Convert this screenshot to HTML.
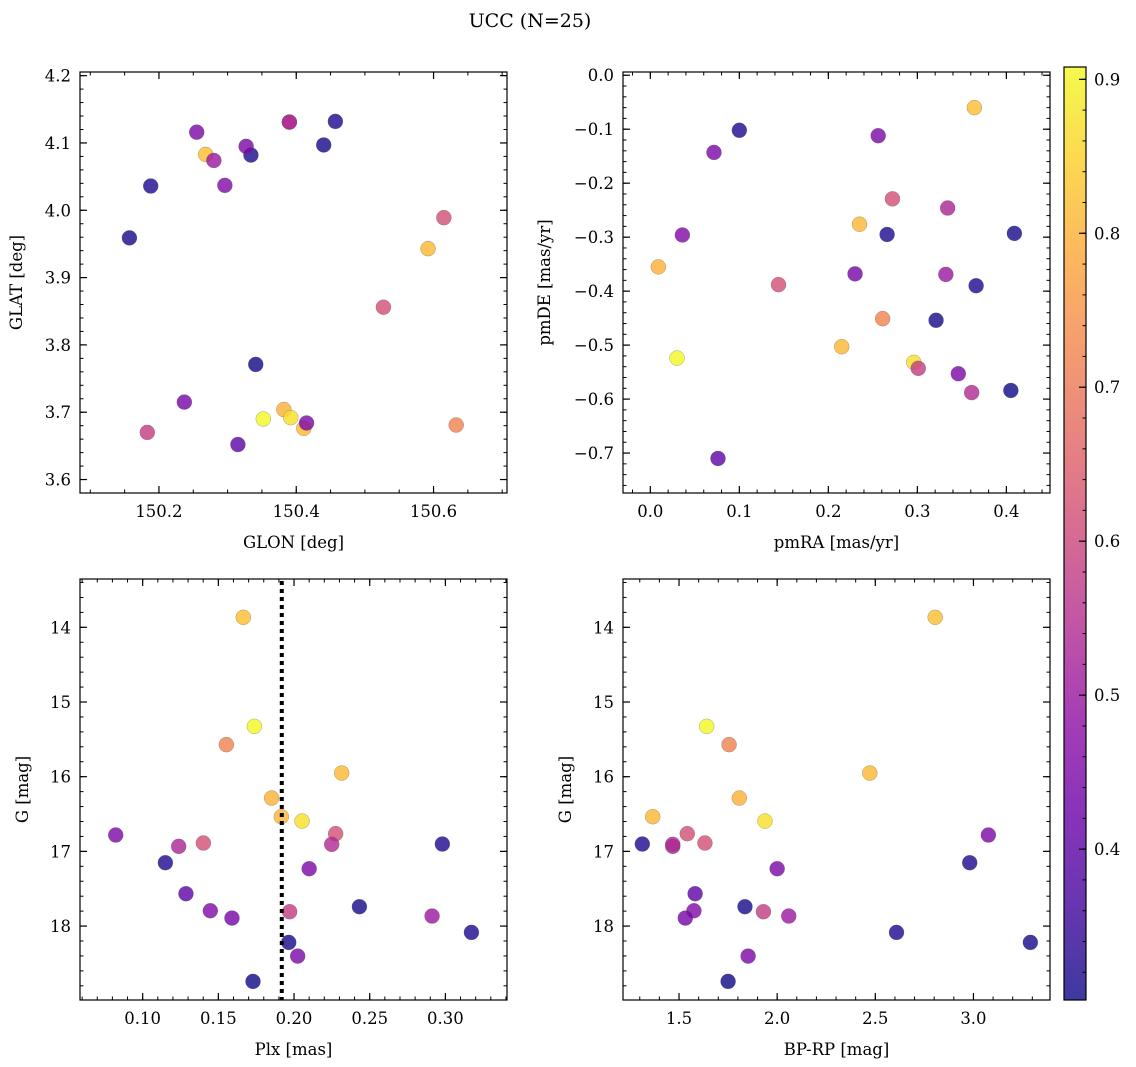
<!DOCTYPE html>
<html>
<head>
<meta charset="utf-8">
<style>
  html,body{margin:0;padding:0;background:#fff;}
  svg{display:block;}
  text{font-family:"DejaVu Serif","Liberation Serif",serif;fill:#000;}
</style>
</head>
<body>
<svg id="fig" width="1136" height="1067" viewBox="0 0 1136 1067" xmlns="http://www.w3.org/2000/svg">
  <defs>
    <linearGradient id="plasmaGrad" x1="0" y1="1" x2="0" y2="0">
      <stop offset="0" stop-color="#0d0887"/>
      <stop offset="0.1" stop-color="#41049d"/>
      <stop offset="0.2" stop-color="#6a00a8"/>
      <stop offset="0.3" stop-color="#8f0da4"/>
      <stop offset="0.4" stop-color="#b12a90"/>
      <stop offset="0.5" stop-color="#cc4778"/>
      <stop offset="0.6" stop-color="#e16462"/>
      <stop offset="0.7" stop-color="#f2844b"/>
      <stop offset="0.8" stop-color="#fca636"/>
      <stop offset="0.9" stop-color="#fcce25"/>
      <stop offset="1" stop-color="#f0f921"/>
    </linearGradient>
  </defs>
  <text x="530" y="27" text-anchor="middle" font-size="19">UCC (N=25)</text>
</svg>
<script>
// ---- data (one entry per star) ----
const glon = [150.268,150.352,150.633,150.592,150.382,150.411,150.392,150.255,150.390,150.615,150.527,150.390,150.334,150.457,150.327,150.315,150.296,150.237,150.183,150.440,150.280,150.188,150.157,150.415,150.341];
const glat = [4.083,3.690,3.681,3.943,3.704,3.676,3.692,4.116,4.131,3.989,3.856,4.131,4.082,4.132,4.095,3.652,4.037,3.715,3.670,4.097,4.074,4.036,3.959,3.684,3.771];
const pmra = [0.364,0.030,0.261,0.235,0.009,0.215,0.296,0.0715,0.334,0.272,0.144,0.361,0.100,0.266,0.256,0.076,0.036,0.230,0.301,0.409,0.332,0.366,0.321,0.346,0.405];
const pmde = [-0.060,-0.524,-0.451,-0.276,-0.355,-0.503,-0.532,-0.143,-0.246,-0.229,-0.388,-0.588,-0.102,-0.295,-0.112,-0.710,-0.296,-0.368,-0.543,-0.293,-0.369,-0.390,-0.454,-0.553,-0.584];
const plx  = [0.1665,0.1738,0.1553,0.2315,0.1852,0.1916,0.2053,0.0822,0.1238,0.1401,0.2275,0.2249,0.298,0.115,0.210,0.1286,0.1447,0.159,0.1971,0.2432,0.2912,0.3172,0.1965,0.2024,0.1729];
const gmag = [13.866,15.326,15.571,15.951,16.286,16.536,16.594,16.781,16.933,16.888,16.763,16.906,16.902,17.152,17.232,17.567,17.795,17.893,17.808,17.741,17.866,18.085,18.219,18.402,18.741];
const bprp = [2.805,1.641,1.755,2.472,1.807,1.366,1.938,3.076,1.468,1.632,1.542,1.468,1.313,2.981,2.000,1.582,1.576,1.532,1.930,1.836,2.059,2.608,3.290,1.852,1.750];
const prob = [0.82,0.908,0.72,0.81,0.80,0.81,0.87,0.45,0.53,0.62,0.62,0.54,0.32,0.32,0.45,0.40,0.46,0.44,0.58,0.31,0.50,0.32,0.31,0.45,0.302];
const plxMedian = 0.1919;

// ---- tick labels ----
const ticksGlon = [150.2,150.4,150.6];
const ticksGlat = [3.6,3.7,3.8,3.9,4.0,4.1,4.2];
const ticksPmra = [0.0,0.1,0.2,0.3,0.4];
const ticksPmde = [0.0,-0.1,-0.2,-0.3,-0.4,-0.5,-0.6,-0.7];
const ticksPlx  = [0.10,0.15,0.20,0.25,0.30];
const ticksG    = [14,15,16,17,18];
const ticksBprp = [1.5,2.0,2.5,3.0];
const ticksCbar = [0.4,0.5,0.6,0.7,0.8,0.9];

const NS = "http://www.w3.org/2000/svg";
const svg = document.getElementById('fig');
const FS = 16.5;
function mk(tag, attrs, parent){
  const e = document.createElementNS(NS, tag);
  for (const k in attrs) e.setAttribute(k, attrs[k]);
  (parent||svg).appendChild(e);
  return e;
}
function minus(s){ return s.replace('-', '\u2212'); }

const plasma = [[13,8,135],[65,4,157],[106,0,168],[143,13,164],[177,42,144],[204,71,120],[225,100,98],[242,132,75],[252,166,54],[252,206,37],[240,249,33]];
function cmap(t){
  t = Math.max(0, Math.min(1, t));
  const f = t*10, i = Math.min(9, Math.floor(f)), r = f - i;
  const a = plasma[i], b = plasma[i+1];
  return 'rgb(' + [0,1,2].map(k => Math.round(a[k] + (b[k]-a[k])*r)).join(',') + ')';
}
const vmin = Math.min(...prob), vmax = Math.max(...prob);

function panel(cfg){
  const {name, box, xr, yr, xt, yt, xminor, yminor, xdec, ydec, xlab, ylab, xs, ys, ylabX, ylabFmt} = cfg;
  const g = mk('g', {});
  
  
  const sx = v => box.x + (v - xr[0]) / (xr[1] - xr[0]) * box.w;
  const sy = v => box.y + (yr[1] - v) / (yr[1] - yr[0]) * box.h;
  const pts = mk('g', {}, g);
  
  
  for (let i = 0; i < xs.length; i++){
    const c = mk('circle', {cx: sx(xs[i]), cy: sy(ys[i]), r: 7.5, fill: cmap((prob[i]-vmin)/(vmax-vmin)), 'fill-opacity': 0.8, stroke: '#555', 'stroke-opacity': 0.5, 'stroke-width': 0.5}, pts);
    
    
  }
  if (cfg.extra) cfg.extra(g, sx, sy);
  const fr = mk('rect', {x: box.x, y: box.y, width: box.w, height: box.h, fill: 'none', stroke: '#000', 'stroke-width': 1.2}, g);
  
  
  const lo = Math.min(xr[0], xr[1]), hi = Math.max(xr[0], xr[1]);
  for (let v = Math.ceil(lo / xminor - 1e-6) * xminor; v <= hi + 1e-9; v += xminor){
    const X = sx(v);
    mk('line', {x1: X, x2: X, y1: box.y + box.h, y2: box.y + box.h - 3.5, stroke: '#000', 'stroke-width': 1}, g);
    mk('line', {x1: X, x2: X, y1: box.y, y2: box.y + 3.5, stroke: '#000', 'stroke-width': 1}, g);
  }
  const ylo = Math.min(yr[0], yr[1]), yhi = Math.max(yr[0], yr[1]);
  for (let v = Math.ceil(ylo / yminor - 1e-6) * yminor; v <= yhi + 1e-9; v += yminor){
    const Y = sy(v);
    mk('line', {x1: box.x, x2: box.x + 3.5, y1: Y, y2: Y, stroke: '#000', 'stroke-width': 1}, g);
    mk('line', {x1: box.x + box.w, x2: box.x + box.w - 3.5, y1: Y, y2: Y, stroke: '#000', 'stroke-width': 1}, g);
  }
  xt.forEach(v => {
    const X = sx(v);
    mk('line', {x1: X, x2: X, y1: box.y + box.h, y2: box.y + box.h - 7, stroke: '#000', 'stroke-width': 1.2}, g);
    mk('line', {x1: X, x2: X, y1: box.y, y2: box.y + 7, stroke: '#000', 'stroke-width': 1.2}, g);
    const t = mk('text', {x: X, y: box.y + box.h + 24, 'text-anchor': 'middle', 'font-size': FS}, g);
    t.textContent = minus(v.toFixed(xdec));
    
    
  });
  yt.forEach(v => {
    const Y = sy(v);
    mk('line', {x1: box.x, x2: box.x + 7, y1: Y, y2: Y, stroke: '#000', 'stroke-width': 1.2}, g);
    mk('line', {x1: box.x + box.w, x2: box.x + box.w - 7, y1: Y, y2: Y, stroke: '#000', 'stroke-width': 1.2}, g);
    const t = mk('text', {x: box.x - 9, y: Y + 6, 'text-anchor': 'end', 'font-size': FS}, g);
    t.textContent = ylabFmt ? ylabFmt(v) : minus(v.toFixed(ydec));
    
    
  });
  const xl = mk('text', {x: box.x + box.w / 2, y: box.y + box.h + 55, 'text-anchor': 'middle', 'font-size': FS}, g);
  xl.textContent = xlab;
  
  
  const yy = box.y + box.h / 2;
  const yl = mk('text', {x: ylabX, y: yy, 'text-anchor': 'middle', 'font-size': FS, transform: 'rotate(-90 ' + ylabX + ' ' + yy + ')'}, g);
  yl.textContent = ylab;
  
  
}

panel({name: 'glon-glat-panel', box: {x: 80, y: 72, w: 427, h: 421}, xr: [150.085, 150.707], yr: [3.580, 4.2054],
  xt: ticksGlon, yt: ticksGlat, xminor: 0.05, yminor: 0.02, xdec: 1, ydec: 1, xlab: 'GLON [deg]', ylab: 'GLAT [deg]', xs: glon, ys: glat, ylabX: 22});
panel({name: 'proper-motion-panel', box: {x: 623, y: 72, w: 427, h: 421}, xr: [-0.0307, 0.449], yr: [-0.774, 0.006],
  xt: ticksPmra, yt: ticksPmde, xminor: 0.02, yminor: 0.02, xdec: 1, ydec: 1, xlab: 'pmRA [mas/yr]', ylab: 'pmDE [mas/yr]', xs: pmra, ys: pmde, ylabX: 550});
const gneg = gmag.map(v => -v);
const gFmt = v => String(Math.round(-v));
panel({name: 'plx-g-panel', box: {x: 80, y: 579, w: 427, h: 421}, xr: [0.0586, 0.3407], yr: [-18.99, -13.353],
  xt: ticksPlx, yt: ticksG.map(v => -v), xminor: 0.01, yminor: 0.2, xdec: 2, ydec: 0, xlab: 'Plx [mas]', ylab: 'G [mag]', xs: plx, ys: gneg, ylabX: 28, ylabFmt: gFmt,
  extra: (g, sx, sy) => {
    const X = sx(plxMedian);
    const l = mk('line', {x1: X, x2: X, y1: 581, y2: 1000, stroke: '#000', 'stroke-width': 4, 'stroke-dasharray': '4 4'}, g);
    
    
  }});
panel({name: 'cmd-panel', box: {x: 623, y: 579, w: 427, h: 421}, xr: [1.2146, 3.390], yr: [-18.99, -13.353],
  xt: ticksBprp, yt: ticksG.map(v => -v), xminor: 0.1, yminor: 0.2, xdec: 1, ydec: 0, xlab: 'BP-RP [mag]', ylab: 'G [mag]', xs: bprp, ys: gneg, ylabX: 571, ylabFmt: gFmt});

// ---- colorbar ----
const cb = {x: 1064, y: 67, w: 22, h: 933};
const cbg = mk('g', {});


const cbr = mk('rect', {x: cb.x, y: cb.y, width: cb.w, height: cb.h, fill: 'url(#plasmaGrad)', 'fill-opacity': 0.8}, cbg);


mk('rect', {x: cb.x, y: cb.y, width: cb.w, height: cb.h, fill: 'none', stroke: '#000', 'stroke-width': 1.2}, cbg);
const cy = v => cb.y + (vmax - v) / (vmax - vmin) * cb.h;
for (let v = Math.ceil(vmin / 0.02) * 0.02; v <= vmax + 1e-9; v += 0.02){
  const Y = cy(v);
  mk('line', {x1: cb.x + cb.w, x2: cb.x + cb.w - 3.5, y1: Y, y2: Y, stroke: '#000', 'stroke-width': 1}, cbg);
}
ticksCbar.forEach(v => {
  const Y = cy(v);
  mk('line', {x1: cb.x + cb.w, x2: cb.x + cb.w - 7, y1: Y, y2: Y, stroke: '#000', 'stroke-width': 1.2}, cbg);
  const t = mk('text', {x: cb.x + cb.w + 8, y: Y + 6, 'font-size': FS}, cbg);
  t.textContent = v.toFixed(1);
  
  
});
</script>
</body>
</html>
